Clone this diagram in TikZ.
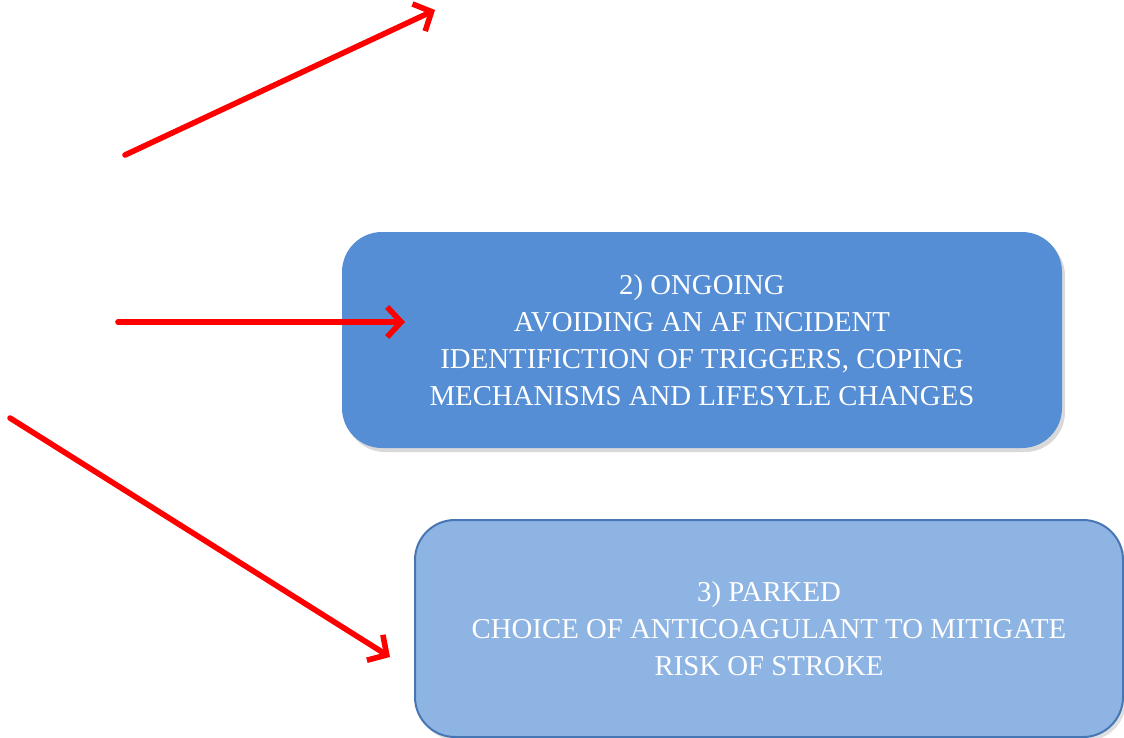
\documentclass[tikz,border=0pt]{standalone}
\usepackage{fontspec}
\setmainfont{Liberation Serif}
\usetikzlibrary{arrows.meta,shadows}

\definecolor{ongoingblue}{RGB}{85,142,213}
\definecolor{parkedblue}{RGB}{142,180,227}
\definecolor{parkededge}{RGB}{70,118,180}

\begin{document}
\begin{tikzpicture}[x=0.5pt,y=-0.5pt,
    redarrow/.style={-{Straight Barb[length=7pt,width=15pt]}, line width=2.8pt, red, line cap=round},
    stagebox/.style={rounded corners=20pt, text=white, align=center, font=\fontsize{14.4}{18.5}\selectfont, inner sep=0pt}]
			\useasboundingbox (0,0) rectangle (1124,738);
			
			% Stage boxes
			\node[stagebox, fill=ongoingblue, minimum width=360pt, minimum height=108pt,
				drop shadow={shadow xshift=1.5pt, shadow yshift=-2pt, opacity=0.3}] (ongoing) at (702,340)
				{2) ONGOING\\AVOIDING AN AF INCIDENT\\IDENTIFICTION OF TRIGGERS, COPING\\MECHANISMS AND LIFESYLE CHANGES};
			
			\node[stagebox, fill=parkedblue, draw=parkededge, line width=1pt, minimum width=354pt, minimum height=108.5pt,
				drop shadow={shadow xshift=1.5pt, shadow yshift=-2pt, opacity=0.25}] (parked) at (769,628.5)
				{3) PARKED\\CHOICE OF ANTICOAGULANT TO MITIGATE\\RISK OF STROKE};
			
			% Arrow ends
			\coordinate (top start) at (125,155);
			\coordinate (top end) at (435,10);
			\coordinate (mid start) at (118,322);
			\coordinate (mid end) at (405,322);
			\coordinate (low start) at (10,418);
			\coordinate (low end) at (390,657);
			
			% Red arrows
			\draw[redarrow] (top start) -- (top end);
			\draw[redarrow] (mid start) -- (mid end);
			\draw[redarrow] (low start) -- (low end);
\end{tikzpicture}
\end{document}
